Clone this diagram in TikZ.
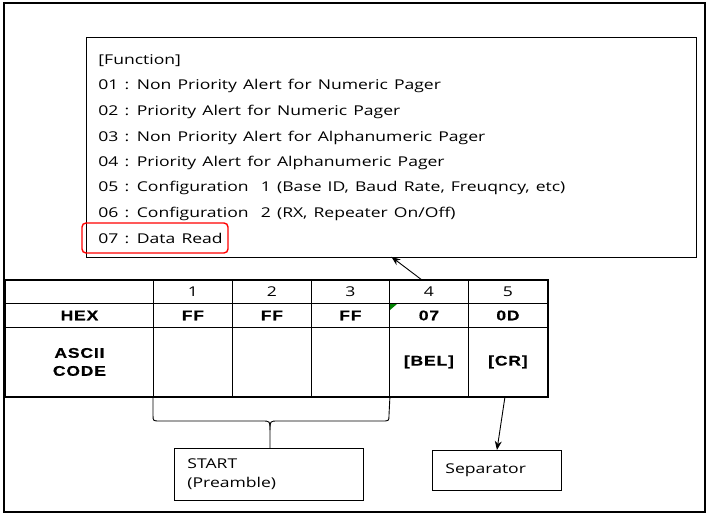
\documentclass[tikz,border=0pt]{standalone}
\usepackage{fontspec}
\setmainfont{Open Sans}[FakeStretch=1.3]
\newfontfamily\cellfont{Liberation Sans}[FakeStretch=1.25,LetterSpace=6,BoldFeatures={FakeBold=0.5}]
\usetikzlibrary{arrows.meta}
% wider word spaces for the function list
\newcommand\funcfont{\fontsize{13.5}{16}\selectfont\spaceskip=6.1pt plus 1pt\relax}

\begin{document}
\begin{tikzpicture}[x=1pt,y=-1pt,line width=0.9pt,%
% common options for the function lines:
fline/.style = {anchor=base west, inner sep=0, font=\funcfont},
% common options for the table cells:
cell/.style = {draw, anchor=north west, minimum height=23, minimum width=79,
            inner sep=0, align=center, font=\fontsize{13.5}{16}\selectfont},
bcell/.style = {cell, font=\cellfont\bfseries\fontsize{14}{18}\selectfont},
% common options for the note boxes:
note/.style = {draw, anchor=north west, align=left, inner xsep=13, inner ysep=0,
            font=\fontsize{13.5}{19}\selectfont},
arr/.style = {-{Stealth[length=9pt,width=7pt]}}]
\useasboundingbox (0,0) rectangle (708,516);
\draw[line width=1.6] (4,3) rectangle (705,512);
% function list
\node[draw, anchor=north west, minimum width=610, minimum height=220, inner sep=0] (func) at (86,37) {};
\node[fline] (F0) at (98,65) {[Function]};
\node[fline] (F1) at (98,90) {01 : Non Priority Alert for Numeric Pager};
\node[fline] (F2) at (98,115) {02 : Priority Alert for Numeric Pager};
\node[fline] (F3) at (98,141) {03 : Non Priority Alert for Alphanumeric Pager};
\node[fline] (F4) at (98,166) {04 : Priority Alert for Alphanumeric Pager};
\node[fline] (F5) at (98,191) {05 : Configuration\ \ 1 (Base ID, Baud Rate, Freuqncy, etc)};
\node[fline] (F6) at (98,217) {06 : Configuration\ \ 2 (RX, Repeater On/Off)};
\node[fline] (F7) at (98,243) {07 : Data Read};
\node[draw=red, line width=1.4, rounded corners=4, minimum width=146, minimum height=30] (sel) at (155,238) {};
% table
\node[cell, minimum width=148] (H0) at (5,280) {};
\node[cell] (H1) at (153,280) {1};
\node[cell] (H2) at (232,280) {2};
\node[cell, minimum width=78] (H3) at (311,280) {3};
\node[cell] (H4) at (389,280) {4};
\node[cell] (H5) at (468,280) {5};
\node[bcell, minimum width=148, minimum height=24] (X0) at (5,303) {HEX};
\node[bcell, minimum height=24] (X1) at (153,303) {FF};
\node[bcell, minimum height=24] (X2) at (232,303) {FF};
\node[bcell, minimum width=78, minimum height=24] (X3) at (311,303) {FF};
\node[bcell, minimum height=24] (X4) at (389,303) {07};
\node[bcell, minimum height=24] (X5) at (468,303) {0D};
\node[bcell, minimum width=148, minimum height=69] (A0) at (5,327) {ASCII\\CODE};
\node[bcell, minimum height=69] (A1) at (153,327) {};
\node[bcell, minimum height=69] (A2) at (232,327) {};
\node[bcell, minimum width=78, minimum height=69] (A3) at (311,327) {};
\node[bcell, minimum height=69] (A4) at (389,327) {[BEL]};
\node[bcell, minimum height=69] (A5) at (468,327) {[CR]};
\draw[line width=1.6] (H0.north west) rectangle (A5.south east);
\fill[green!50!black] ([shift={(1,1)}]X4.north west) -- ++(7,0) -- ++(-7,6) -- cycle;
% notes below
\node[note, minimum width=189, minimum height=52, text width=163] (start) at (174,448) {START\\(Preamble)};
\node[note, minimum width=129, minimum height=40, text width=103] (sep) at (432,450) {Separator};
\draw (A1.south west) -- (153,415) .. controls (153,421) .. (160,421) -- (262,421)
   .. controls (270,421) .. (270,430) -- (270,448);
\draw (A3.south east) -- (389,415) .. controls (389,421) .. (382,421) -- (278,421)
   .. controls (270,421) .. (270,430);
\draw[arr] ([xshift=-7pt]H4.north) -- ([yshift=1pt]func.south);
\draw[arr] ([xshift=-3pt]A5.south) -- (sep.north);
\end{tikzpicture}
\end{document}
